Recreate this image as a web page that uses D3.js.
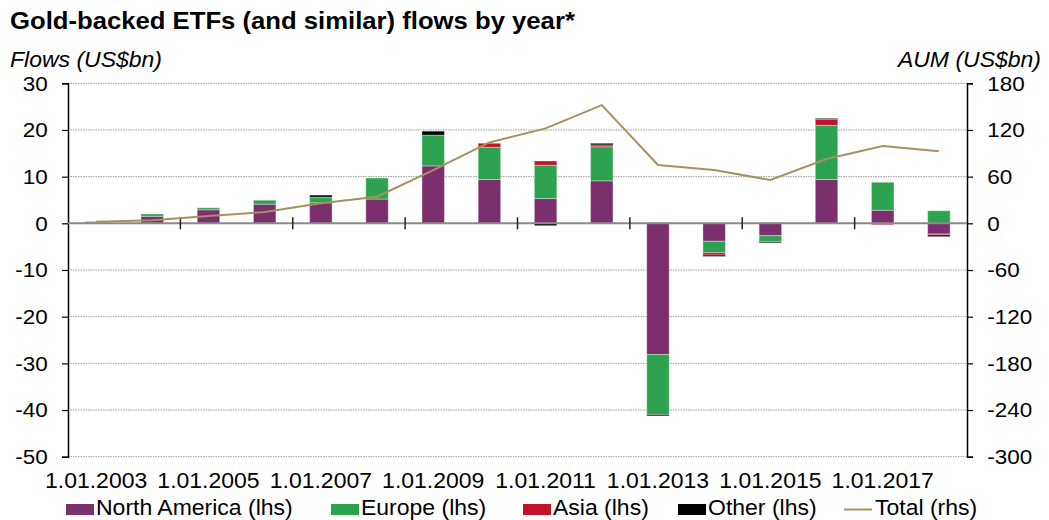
<!DOCTYPE html>
<html>
<head>
<meta charset="utf-8">
<script src="https://cdn.jsdelivr.net/npm/d3@7"></script>
<style>
  html, body { margin: 0; padding: 0; background: #fff; }
  svg { display: block; font-family: "Liberation Sans", Arial, sans-serif; }
</style>
</head>
<body>
<svg id="chart" width="1049" height="520"></svg>
<script>
// Yearly gold ETF flows by region (US$bn, left axis) and total AUM (US$bn, right axis)
const years = [2003, 2004, 2005, 2006, 2007, 2008, 2009, 2010, 2011, 2012, 2013, 2014, 2015, 2016, 2017, 2018];
const northAmerica = [0.1, 1.5, 2.9, 4.1, 4.4, 5.2, 12.3, 9.4, 5.3, 9.1, -28.1, -3.85, -2.65, 9.4, 2.8, -2.3];
const europe       = [0.3, 0.5, 0.43, 0.85, 1.2, 4.5, 6.6, 6.9, 7.15, 7.3, -12.85, -2.45, -1.35, 11.6, 6.0, 2.7];
const asia         = [0, 0, 0, 0, 0, 0, 0, 0.85, 0.9, 0.4, 0.15, -0.5, 0.15, 1.3, -0.3, -0.2];
const other        = [0, 0, 0, 0, 0.45, 0, 0.85, 0, -0.5, 0.35, -0.3, -0.3, -0.2, 0.2, 0, -0.35];
const totalAUM     = [2, 3.9, 9.4, 14.5, 25.7, 34.2, 68.5, 104, 122, 152, 75, 68.5, 55.7, 82.7, 99.4, 92.6];

const leftTicks  = [30, 20, 10, 0, -10, -20, -30, -40, -50];
const rightTicks = [180, 120, 60, 0, -60, -120, -180, -240, -300];
const labelYears = [2003, 2005, 2007, 2009, 2011, 2013, 2015, 2017];

const seriesNames = ["North America (lhs)", "Europe (lhs)", "Asia (lhs)", "Other (lhs)"];
const seriesColors = ["#7b2f6d", "#2ea34f", "#c0142b", "#000000"];
const lineColor = "#a89160";

// Text in this chart is set slightly wide
const WIDE = 1.07;

const svg = d3.select("#chart");
const plot = { left: 68, right: 967, top: 83.3, bottom: 456.7 };

const x = d3.scaleBand().domain(years).range([plot.left, plot.right]).paddingInner(0.6).paddingOuter(0.3);
const band = d3.scaleBand().domain(years).range([plot.left, plot.right]);
const yL = d3.scaleLinear().domain([-50, 30]).range([plot.bottom, plot.top]);
const yR = d3.scaleLinear().domain([-300, 180]).range([plot.bottom, plot.top]);

function label(parent, px, py, str, size, opts = {}) {
  const t = parent.append("text")
    .attr("transform", `translate(${px},${py}) scale(${WIDE},1)`)
    .attr("font-size", size)
    .attr("fill", "#000")
    .attr("text-anchor", opts.anchor || "start")
    .text(str);
  if (opts.bold) t.attr("font-weight", "bold");
  if (opts.italic) t.attr("font-style", "italic");
  return t;
}

// Title and axis captions
label(svg, 10, 29, "Gold-backed ETFs (and similar) flows by year*", 24, { bold: true });
label(svg, 10, 67, "Flows (US$bn)", 21.5, { italic: true });
label(svg, 1041, 67, "AUM (US$bn)", 21.5, { italic: true, anchor: "end" });

// Dotted gridlines
svg.append("g").selectAll("line").data(leftTicks.filter(d => d !== 0)).join("line")
  .attr("x1", plot.left).attr("x2", plot.right)
  .attr("y1", d => yL(d)).attr("y2", d => yL(d))
  .attr("stroke", "#9a9a9a").attr("stroke-width", 1).attr("stroke-dasharray", "1.5,1");

// Left axis
const axL = svg.append("g").attr("transform", `translate(${plot.left},0)`)
  .call(d3.axisLeft(yL).tickValues(leftTicks).tickSize(6).tickPadding(13).tickFormat(d => String(d)));
axL.select(".domain").attr("stroke", "#000").attr("stroke-width", 1.5);
axL.selectAll(".tick line").attr("stroke", "#000").attr("stroke-width", 1.2);
axL.selectAll(".tick text").attr("font-size", 21).attr("fill", "#000")
  .attr("font-family", "Liberation Sans, Arial, sans-serif")
  .attr("transform", `scale(${WIDE},1)`);

// Right axis
const axR = svg.append("g").attr("transform", `translate(${plot.right},0)`)
  .call(d3.axisRight(yR).tickValues(rightTicks).tickSize(6).tickPadding(13).tickFormat(d => String(d)));
axR.select(".domain").attr("stroke", "#000").attr("stroke-width", 1.5);
axR.selectAll(".tick line").attr("stroke", "#000").attr("stroke-width", 1.2);
axR.selectAll(".tick text").attr("font-size", 21).attr("fill", "#000")
  .attr("font-family", "Liberation Sans, Arial, sans-serif")
  .attr("transform", `scale(${WIDE},1)`);

// Stacked bars (positive and negative stacks grow away from zero)
const rows = years.map((yr, i) => ({ year: yr, na: northAmerica[i], eu: europe[i], as: asia[i], ot: other[i] }));
const keys = ["na", "eu", "as", "ot"];
const stacked = d3.stack().keys(keys).offset(d3.stackOffsetDiverging)(rows);

svg.append("g").selectAll("g").data(stacked).join("g")
  .attr("fill", (d, i) => seriesColors[i])
  .selectAll("rect").data(d => d.filter(p => p[1] !== p[0])).join("rect")
  .attr("x", d => x(d.data.year))
  .attr("width", x.bandwidth())
  .attr("y", d => yL(Math.max(d[0], d[1])))
  .attr("height", d => Math.abs(yL(d[0]) - yL(d[1])))
  .attr("stroke", "#ffffff").attr("stroke-opacity", 0.35).attr("stroke-width", 1);

// Zero line with category ticks every two years
svg.append("line").attr("x1", plot.left).attr("x2", plot.right)
  .attr("y1", yL(0)).attr("y2", yL(0)).attr("stroke", "#8a8a8a").attr("stroke-width", 2);
const boundaryYears = years.filter((yr, i) => i > 0 && i % 2 === 0);
svg.append("g").selectAll("line").data(boundaryYears).join("line")
  .attr("x1", d => band(d)).attr("x2", d => band(d))
  .attr("y1", yL(0) - 6).attr("y2", yL(0) + 6)
  .attr("stroke", "#222").attr("stroke-width", 1.5);

// Total AUM line on the right axis
const line = d3.line().x((d, i) => band(years[i]) + band.bandwidth() / 2).y(d => yR(d));
svg.append("path").datum(totalAUM).attr("d", line)
  .attr("fill", "none").attr("stroke", lineColor).attr("stroke-width", 2);

// Date labels under the plot
const dates = svg.append("g");
labelYears.forEach(yr => {
  label(dates, band(yr) + band.bandwidth() / 2, 488, `1.01.${yr}`, 21.5, { anchor: "middle" });
});

// Legend
const legendX = [66, 331, 523, 678, 844];
const legend = svg.append("g");
seriesNames.forEach((name, i) => {
  legend.append("rect").attr("x", legendX[i]).attr("y", 504).attr("width", 28).attr("height", 11)
    .attr("fill", seriesColors[i]);
  label(legend, legendX[i] + 30, 515, name, 21.5);
});
legend.append("line").attr("x1", legendX[4]).attr("x2", legendX[4] + 28)
  .attr("y1", 509.5).attr("y2", 509.5).attr("stroke", lineColor).attr("stroke-width", 2);
label(legend, legendX[4] + 31, 515, "Total (rhs)", 21.5);
</script>
</body>
</html>
